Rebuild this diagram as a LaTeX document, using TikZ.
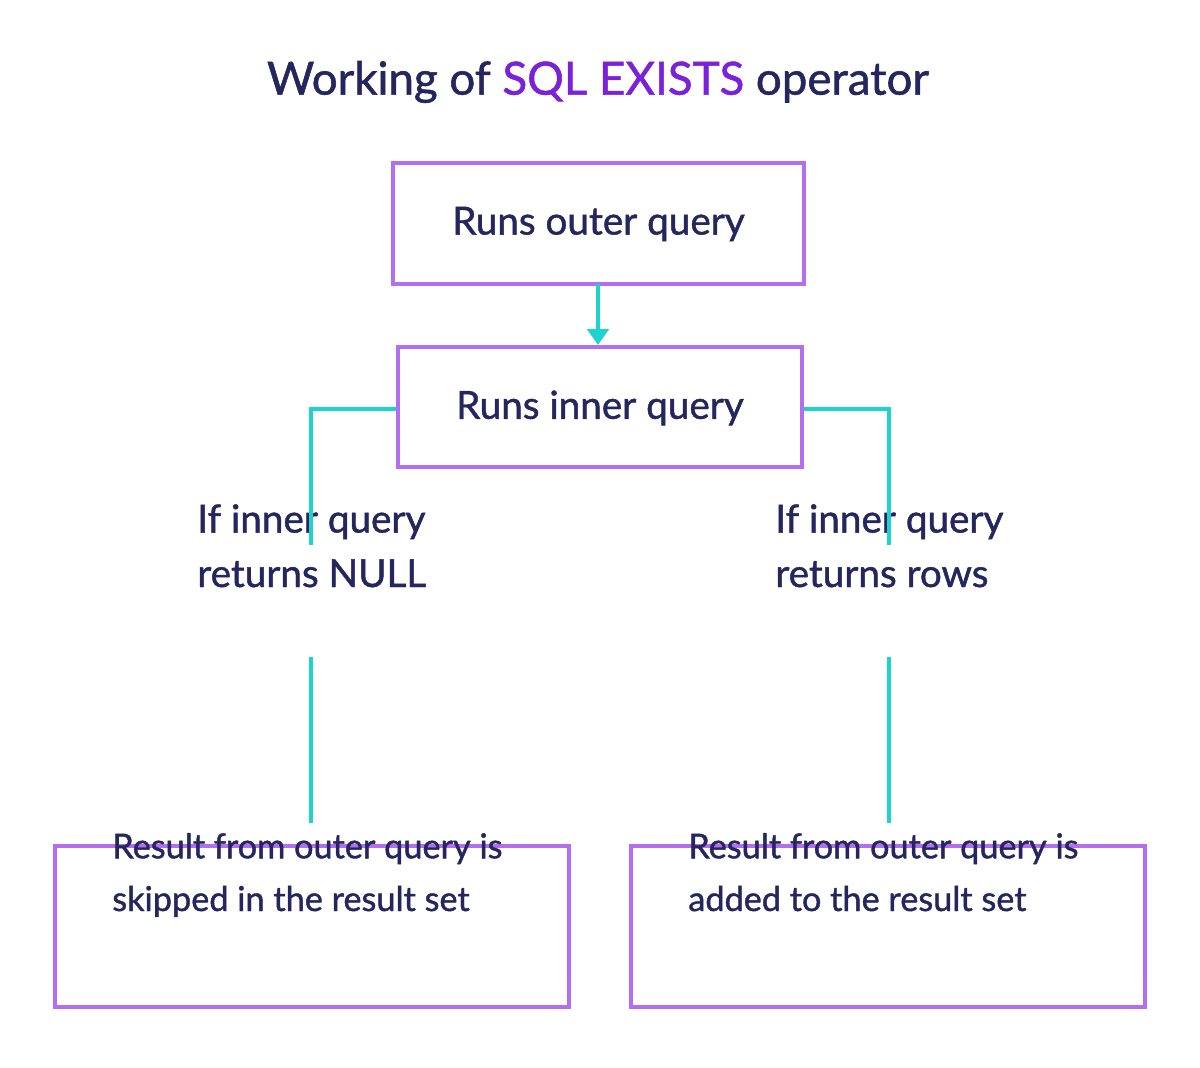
\documentclass[tikz,border=0pt]{standalone}
\usepackage{fontspec}
\setmainfont{Lato}[AutoFakeBold=1.2]
\usetikzlibrary{arrows.meta}
\definecolor{navy}{HTML}{25265E}
\definecolor{boxc}{HTML}{B46EF0}
\definecolor{hl}{HTML}{7B22D8}
\definecolor{cy}{HTML}{1DD3D0}
\begin{document}
\begin{tikzpicture}[x=0.02cm,y=-0.02cm,
  box/.style={draw=boxc,line width=2pt,text=navy,font=\fontsize{22}{28}\bfseries\selectfont},
  res/.style={text=navy,font=\fontsize{19.5}{30}\bfseries\selectfont,align=left,anchor=base west,inner sep=0pt},
  lbl/.style={text=navy,font=\fontsize{22}{31}\bfseries\selectfont,align=left,anchor=base west,inner sep=0pt},
  con/.style={draw=cy,line width=2.2pt}]
\useasboundingbox (0,0) rectangle (1200,1068);
\node[text=navy,font=\fontsize{26}{30}\bfseries\selectfont] (title) at (598,82) {Working of \textcolor{hl}{SQL EXISTS} operator};
\draw[box] (393,163) rectangle (804,284); \node[box,draw=none] (outer) at (598.5,224) {Runs outer query};
\draw[box] (398,347) rectangle (802,467); \node[box,draw=none] (inner) at (600,408) {Runs inner query};
\draw[box] (55,846) rectangle (569,1007); \node[res] (lres) at (112,911) {Result from outer query is\\skipped in the result set};
\draw[box] (631,846) rectangle (1145,1007); \node[res] (rres) at (688,911) {Result from outer query is\\added to the result set};
\node[lbl] (ll) at (197,587) {If inner query\\returns NULL};
\node[lbl] (rl) at (775,587) {If inner query\\returns rows};
\coordinate (ot) at (598,284); \coordinate (it) at (598,345);
\draw[con,-{Triangle[length=9pt,width=12pt]}] (ot) -- (it);
\coordinate (iw) at (396,409); \coordinate (lc) at (311,409); \coordinate (la) at (311,545);
\coordinate (lb) at (311,657); \coordinate (lr) at (311,823);
\draw[con] (iw) -- (lc) -- (la); \draw[con] (lb) -- (lr);
\coordinate (ie) at (804,409); \coordinate (rc) at (889,409); \coordinate (ra) at (889,545);
\coordinate (rb) at (889,657); \coordinate (rr) at (889,823);
\draw[con] (ie) -- (rc) -- (ra); \draw[con] (rb) -- (rr);
\end{tikzpicture}
\end{document}
